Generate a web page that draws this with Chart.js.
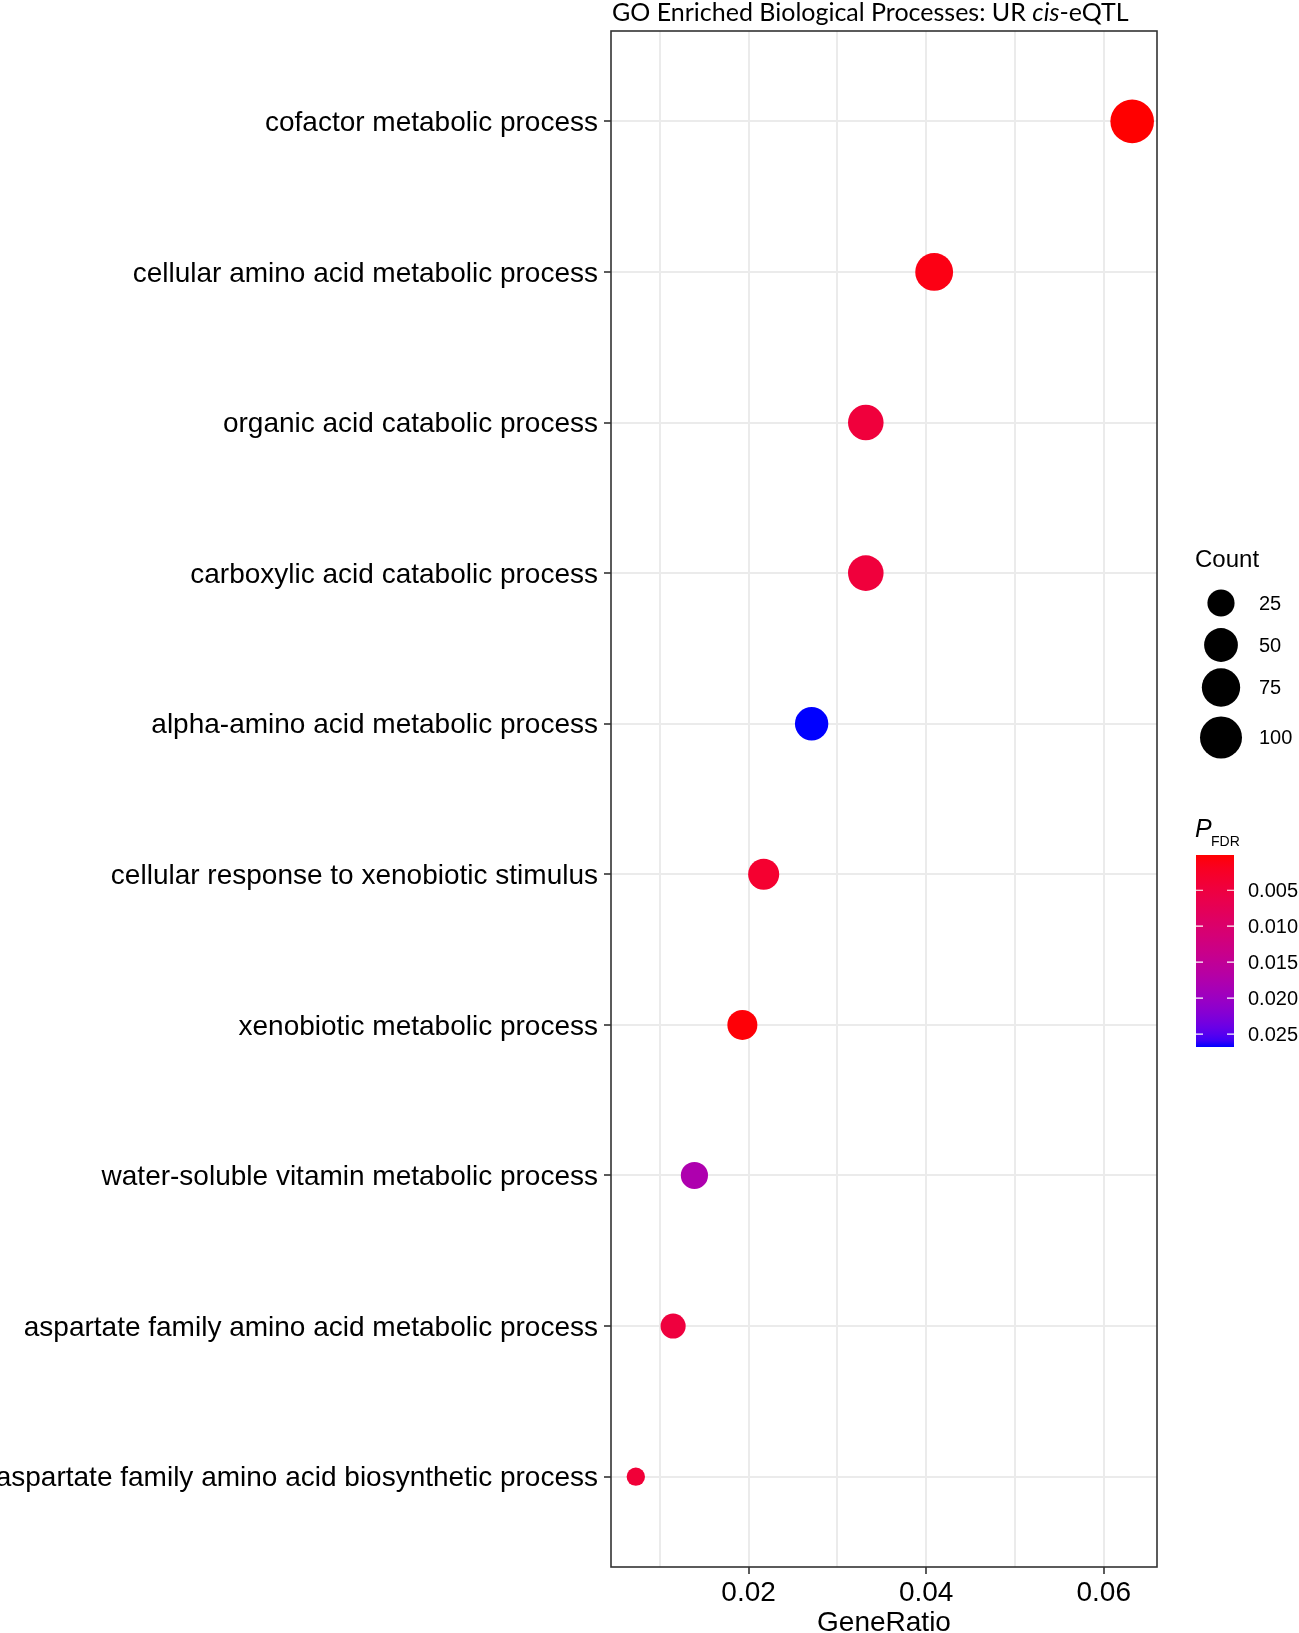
<!DOCTYPE html>
<html>
<head>
<meta charset="utf-8">
<script src="https://cdn.jsdelivr.net/npm/chart.js@4.4.1/dist/chart.umd.min.js"></script>
<style>
html,body{margin:0;padding:0;background:#ffffff;}
canvas{display:block;}
</style>
</head>
<body>
<canvas id="chart" width="1299" height="1633"></canvas>
<script>
// ---- data ----
const categories = [
  "cofactor metabolic process",
  "cellular amino acid metabolic process",
  "organic acid catabolic process",
  "carboxylic acid catabolic process",
  "alpha-amino acid metabolic process",
  "cellular response to xenobiotic stimulus",
  "xenobiotic metabolic process",
  "water-soluble vitamin metabolic process",
  "aspartate family amino acid metabolic process",
  "aspartate family amino acid biosynthetic process"
];
const geneRatio = [0.0632, 0.0409, 0.0332, 0.0332, 0.0271, 0.0217, 0.0193, 0.0139, 0.0115, 0.0073];
const geneCount = [112, 72, 59, 59, 48, 38, 34, 25, 20, 13];
const pFDR      = [0.0001, 0.0010, 0.0046, 0.0046, 0.0268, 0.0033, 0.0004, 0.0178, 0.0048, 0.0042];

const xMinorTicks = [0.01, 0.03, 0.05];
const xMajorTicks = [0.02, 0.04, 0.06];
const xTickLabels = ["0.02", "0.04", "0.06"];
const sizeLegendValues = [25, 50, 75, 100];
const sizeLegendLabels = ["25", "50", "75", "100"];
const colorLegendValues = [0.005, 0.010, 0.015, 0.020, 0.025];
const colorLegendLabels = ["0.005", "0.010", "0.015", "0.020", "0.025"];

const titleParts = [
  {text: "GO Enriched Biological Processes: UR ", italic: false},
  {text: "cis", italic: true},
  {text: "-eQTL", italic: false}
];

// ---- scales for size and colour (ggplot-like) ----
const cMin = Math.min(...geneCount), cMax = Math.max(...geneCount);
const R_MIN = 9.2, R_MAX = 21.8;
function radiusFor(c) {
  const t = Math.max(0, Math.min(1, (c - cMin) / (cMax - cMin)));
  return R_MIN + (R_MAX - R_MIN) * Math.sqrt(t);
}
const pMin = Math.min(...pFDR), pMax = Math.max(...pFDR);

function s2l(c){c/=255;return c<=0.04045?c/12.92:Math.pow((c+0.055)/1.055,2.4);}
function l2s(c){c=Math.max(0,Math.min(1,c));return 255*(c<=0.0031308?12.92*c:1.055*Math.pow(c,1/2.4)-0.055);}
const XN=0.95047, YN=1.0, ZN=1.08883;
function rgb2lab(rgb){
  const R=s2l(rgb[0]),G=s2l(rgb[1]),B=s2l(rgb[2]);
  const X=(0.4124564*R+0.3575761*G+0.1804375*B)/XN;
  const Y=(0.2126729*R+0.7151522*G+0.0721750*B)/YN;
  const Z=(0.0193339*R+0.1191920*G+0.9503041*B)/ZN;
  const f=t=>t>0.008856?Math.cbrt(t):(7.787*t+16/116);
  const fx=f(X),fy=f(Y),fz=f(Z);
  return [116*fy-16, 500*(fx-fy), 200*(fy-fz)];
}
function lab2rgb(lab){
  const fy=(lab[0]+16)/116, fx=fy+lab[1]/500, fz=fy-lab[2]/200;
  const fi=t=>{const t3=t*t*t;return t3>0.008856?t3:(t-16/116)/7.787;};
  const X=XN*fi(fx),Y=YN*fi(fy),Z=ZN*fi(fz);
  const R= 3.2404542*X-1.5371385*Y-0.4985314*Z;
  const G=-0.9692660*X+1.8760108*Y+0.0415560*Z;
  const B= 0.0556434*X-0.2040259*Y+1.0572252*Z;
  return [l2s(R),l2s(G),l2s(B)].map(v=>Math.round(v));
}
const LOW_LAB = rgb2lab([255,0,0]);
const HIGH_LAB = rgb2lab([0,0,255]);
function colorAt(t){
  t=Math.max(0,Math.min(1,t));
  const lab=[0,1,2].map(i=>LOW_LAB[i]+(HIGH_LAB[i]-LOW_LAB[i])*t);
  const c=lab2rgb(lab);
  return `rgb(${c[0]},${c[1]},${c[2]})`;
}
function colorFor(p){ return colorAt((p - pMin) / (pMax - pMin)); }

// x range with ggplot-like 5% expansion
const gxMin = Math.min(...geneRatio), gxMax = Math.max(...geneRatio);
const gxR = gxMax - gxMin;
const X_MIN = gxMin - 0.05 * gxR, X_MAX = gxMax + 0.05 * gxR;

const LABEL_FONT = "'Liberation Sans', Arial, Helvetica, sans-serif";
const GRID = "#EBEBEB";
const DARK = "#333333";

const decorPlugin = {
  id: 'decor',
  afterDatasetsDraw(chart) {
    const {ctx, chartArea: a} = chart;
    ctx.save();
    ctx.strokeStyle = DARK;
    ctx.lineWidth = 1.6;
    ctx.strokeRect(a.left, a.top, a.right - a.left, a.bottom - a.top);
    ctx.restore();
  },
  afterDraw(chart) {
    const {ctx, chartArea: a} = chart;
    ctx.save();
    // title
    ctx.fillStyle = "#000000";
    ctx.textBaseline = "alphabetic";
    ctx.textAlign = "left";
    let tx = a.left + 1;
    for (const part of titleParts) {
      ctx.font = (part.italic ? "italic " : "") + "25px Lato, 'Open Sans', sans-serif";
      ctx.fillText(part.text, tx, 21);
      tx += ctx.measureText(part.text).width;
    }

    // size legend
    const lx = a.right + 39;   // legend left
    ctx.fillStyle = "#000000";
    ctx.font = "24px " + LABEL_FONT;
    ctx.textBaseline = "middle";
    ctx.fillText("Count", lx - 1, 560);
    const keyCx = lx + 25;
    const keyY = [603, 645, 687.5, 737.5];
    ctx.font = "20px " + LABEL_FONT;
    sizeLegendValues.forEach((v, i) => {
      ctx.beginPath();
      ctx.arc(keyCx, keyY[i], radiusFor(v), 0, Math.PI * 2);
      ctx.fillStyle = "#000000";
      ctx.fill();
      ctx.fillText(sizeLegendLabels[i], lx + 63, keyY[i] + 1);
    });

    // colour legend title  P_FDR
    ctx.textBaseline = "alphabetic";
    ctx.font = "italic 25px " + LABEL_FONT;
    ctx.fillText("P", lx - 1, 837);
    ctx.font = "14px " + LABEL_FONT;
    ctx.fillText("FDR", lx + 15, 846);

    // colourbar
    const bx = lx, bw = 38, by = 855, bh = 192;
    const grad = ctx.createLinearGradient(0, by, 0, by + bh);
    for (let k = 0; k <= 30; k++) grad.addColorStop(k / 30, colorAt(k / 30));
    ctx.fillStyle = grad;
    ctx.fillRect(bx, by, bw, bh);
    ctx.strokeStyle = "#ffffff";
    ctx.lineWidth = 1.2;
    ctx.font = "20px " + LABEL_FONT;
    ctx.textBaseline = "middle";
    colorLegendValues.forEach((v, i) => {
      const y = by + (v - pMin) / (pMax - pMin) * bh;
      ctx.beginPath();
      ctx.moveTo(bx, y); ctx.lineTo(bx + 7, y);
      ctx.moveTo(bx + bw - 7, y); ctx.lineTo(bx + bw, y);
      ctx.stroke();
      ctx.fillStyle = "#000000";
      ctx.fillText(colorLegendLabels[i], bx + 52, y + 1);
    });
    ctx.restore();
  }
};

new Chart(document.getElementById('chart'), {
  type: 'scatter',
  data: {
    datasets: [{
      data: geneRatio.map((x, i) => ({x: x, y: i})),
      pointRadius: (c) => radiusFor(geneCount[c.dataIndex]),
      pointHoverRadius: (c) => radiusFor(geneCount[c.dataIndex]),
      backgroundColor: (c) => colorFor(pFDR[c.dataIndex]),
      borderWidth: 0
    }]
  },
  options: {
    responsive: false,
    devicePixelRatio: 1,
    animation: false,
    layout: {padding: {top: 31, right: 142, bottom: 0, left: 0}},
    plugins: {legend: {display: false}, tooltip: {enabled: false}, title: {display: false}},
    scales: {
      x: {
        type: 'linear',
        min: X_MIN, max: X_MAX,
        afterBuildTicks: (s) => { s.ticks = [...xMinorTicks, ...xMajorTicks].sort((a,b)=>a-b).map(v => ({value: v})); },
        afterFit: (s) => { s.height = 66; },
        ticks: {
          autoSkip: false, maxRotation: 0, padding: 2,
          color: "#000000",
          font: {family: LABEL_FONT, size: 28},
          callback: (v) => { const k = xMajorTicks.findIndex(m => Math.abs(m - v) < 1e-9); return k >= 0 ? xTickLabels[k] : ''; }
        },
        grid: {
          color: GRID, lineWidth: 2, drawTicks: true, tickLength: 7, tickWidth: 1.6,
          tickColor: (c) => (c.tick && xMajorTicks.some(m => Math.abs(m - c.tick.value) < 1e-9)) ? DARK : 'rgba(0,0,0,0)'
        },
        border: {display: false},
        title: {display: true, text: "GeneRatio", color: "#000000", font: {family: LABEL_FONT, size: 28, lineHeight: 1}, padding: {top: 0, bottom: -4}}
      },
      y: {
        type: 'linear',
        reverse: true,
        min: -0.6, max: categories.length - 1 + 0.6,
        afterBuildTicks: (s) => { s.ticks = categories.map((c, i) => ({value: i})); },
        afterFit: (s) => { s.width = 611; },
        ticks: {
          autoSkip: false, padding: 6, labelOffset: 2,
          color: "#000000",
          font: {family: LABEL_FONT, size: 28},
          callback: (v) => categories[Math.round(v)] || ''
        },
        grid: {color: GRID, lineWidth: 2, drawTicks: true, tickLength: 7, tickWidth: 1.6, tickColor: DARK},
        border: {display: false}
      }
    }
  },
  plugins: [decorPlugin]
});
</script>
</body>
</html>
